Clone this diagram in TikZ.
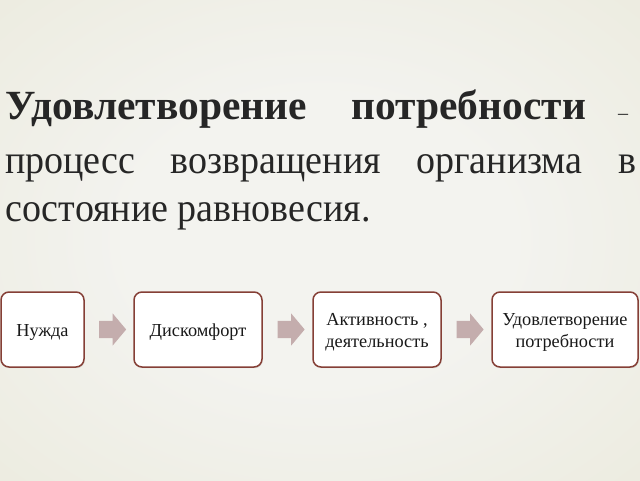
\documentclass[tikz,border=0pt]{standalone}
\usepackage{fontspec}
\setmainfont{Liberation Serif}
\usetikzlibrary{shapes.arrows,shadows,calc}
\definecolor{bgc}{HTML}{F3F3EF}
\definecolor{bge}{HTML}{E8E7D6}
\definecolor{bgk}{HTML}{DFDDC8}
\definecolor{boxline}{HTML}{853F36}
\definecolor{arrowfill}{HTML}{C4ADAD}
\definecolor{titlecol}{HTML}{262626}
\pgfdeclareradialshading{bgshade}{\pgfpoint{0bp}{0bp}}{color(0bp)=(bgc); color(15bp)=(bgc); color(50bp)=(bge); color(71bp)=(bgk)}
\newcommand\boxstrut{\rule{0pt}{18pt}}
\begin{document}
\begin{tikzpicture}[x=1pt,y=-1pt,
  stepbox/.style={draw=boxline, line width=1.5pt, fill=white, rounded corners=8pt,
    align=center, inner sep=0pt, font=\fontsize{18.3}{22}\selectfont, text=black!90,
    drop shadow={opacity=0.2, shadow xshift=0.8pt, shadow yshift=-1.2pt}},
  flowarrow/.style={single arrow, fill=arrowfill, draw=none, minimum height=27pt,
    text height=8.5pt, text depth=8.5pt, text width=0pt,
    single arrow head extend=7.5pt, single arrow tip angle=100,
    inner sep=0pt},
  titleline/.style={anchor=base west, inner sep=0pt, text=titlecol,
    font=\fontsize{38}{49}\selectfont}]
\useasboundingbox (0,0) rectangle (640,480);
\shade[shading=bgshade] (0,0) rectangle (640,480);
% title
\node[titleline] (t1) at (5,119) {\makebox[631pt][l]{{\bfseries\fontsize{41.5}{49}\selectfont Удовлетворение}\hskip 0pt plus 1.39fill{\bfseries\fontsize{41.5}{49}\selectfont потребности}\hskip 0pt plus 1fill{\fontsize{20}{22}\selectfont –}\hspace{8pt}}};
\node[titleline, yscale=1.06] (t2) at (5,173) {\makebox[631pt][l]{процесс\hfill возвращения\hfill организма\hfill в}};
\node[titleline, yscale=1.06] (t3) at (5,221) {состояние равновесия.};
% boxes
\node[stepbox, minimum width=83pt, minimum height=75pt] (b1) at (42.5,329.5) {\boxstrut Нужда};
\node[stepbox, minimum width=128pt, minimum height=75pt] (b2) at (198,329.5) {\boxstrut Дискомфорт};
\node[stepbox, minimum width=128pt, minimum height=75pt] (b3) at (377,329.5) {\boxstrut Активность ,\\деятельность};
\node[stepbox, minimum width=146pt, minimum height=75pt] (b4) at (565,329.5) {\boxstrut Удовлетворение\\потребности};
% arrows
\node[flowarrow] (a1) at ($(b1.east)!0.5!(b2.west)$) {};
\node[flowarrow] (a2) at ($(b2.east)!0.5!(b3.west)$) {};
\node[flowarrow] (a3) at ($(b3.east)!0.5!(b4.west)$) {};
\end{tikzpicture}
\end{document}
